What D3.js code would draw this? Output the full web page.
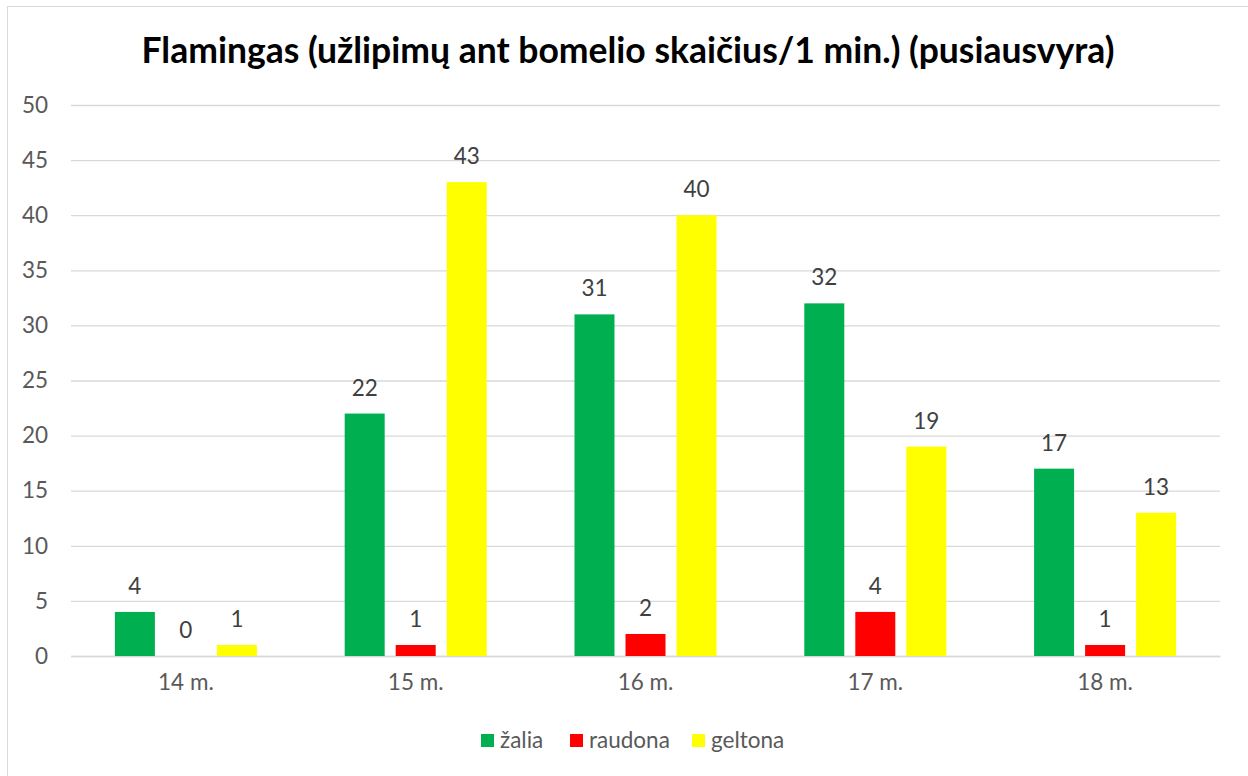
<!DOCTYPE html>
<html>
<head>
<meta charset="utf-8">
<script src="https://cdn.jsdelivr.net/npm/d3@7"></script>
<style>
  html, body { margin: 0; padding: 0; background: #fff; }
  svg { display: block; font-family: Lato, "Open Sans", sans-serif; }
</style>
</head>
<body>
<svg id="chart" width="1248" height="776"></svg>
<script>
const categories = ["14 m.", "15 m.", "16 m.", "17 m.", "18 m."];
const seriesNames = ["žalia", "raudona", "geltona"];
const seriesColors = ["#00B050", "#FF0000", "#FFFF00"];
const zalia = [4, 22, 31, 32, 17];
const raudona = [0, 1, 2, 4, 1];
const geltona = [1, 43, 40, 19, 13];
const yTicks = [0, 5, 10, 15, 20, 25, 30, 35, 40, 45, 50];

const values = [zalia, raudona, geltona];
const svg = d3.select("#chart");
const margin = { top: 105, right: 28, bottom: 120, left: 71 };
const W = 1248, H = 776;

// chart border
svg.append("rect")
  .attr("x", 7.5).attr("y", 6.5)
  .attr("width", W).attr("height", H)
  .attr("fill", "none").attr("stroke", "#d9d9d9");

svg.append("text")
  .attr("x", 628).attr("y", 63)
  .attr("text-anchor", "middle")
  .attr("font-size", 35.5).attr("font-weight", "bold")
  .attr("fill", "#000")
  .text("Flamingas (užlipimų ant bomelio skaičius/1 min.) (pusiausvyra)");

const x0 = d3.scaleBand()
  .domain(categories)
  .range([margin.left, W - margin.right]);

const groupW = x0.bandwidth() * 0.618;
const x1 = d3.scaleBand()
  .domain(seriesNames)
  .range([(x0.bandwidth() - groupW) / 2, (x0.bandwidth() + groupW) / 2])
  .paddingInner(0.216);

const y = d3.scaleLinear()
  .domain([0, 50])
  .range([H - margin.bottom, margin.top]);

// gridlines + y labels
const yAxis = svg.append("g")
  .attr("transform", `translate(${margin.left},0)`)
  .call(d3.axisLeft(y).tickValues(yTicks)
    .tickSize(-(W - margin.left - margin.right)).tickPadding(23));
yAxis.select(".domain").remove();
yAxis.selectAll(".tick line").attr("stroke", "#d9d9d9").attr("stroke-width", 1.3);
yAxis.selectAll(".tick text")
  .attr("font-size", 22.5).attr("fill", "#595959")
  .attr("font-family", "Lato, sans-serif");

// x axis
const xAxis = svg.append("g")
  .attr("transform", `translate(0,${H - margin.bottom})`)
  .call(d3.axisBottom(x0).tickSize(0).tickPadding(18));
xAxis.select(".domain").attr("stroke", "#d9d9d9").attr("stroke-width", 1.3);
xAxis.selectAll(".tick text")
  .attr("font-size", 22.5).attr("fill", "#595959")
  .attr("font-family", "Lato, sans-serif");

// bars
const rows = [];
categories.forEach((c, i) => {
  seriesNames.forEach((s, j) => rows.push({ cat: c, series: s, color: seriesColors[j], value: values[j][i] }));
});

svg.append("g").selectAll("rect")
  .data(rows)
  .join("rect")
  .attr("x", d => x0(d.cat) + x1(d.series))
  .attr("y", d => y(d.value))
  .attr("width", x1.bandwidth())
  .attr("height", d => y(0) - y(d.value))
  .attr("fill", d => d.color);

svg.append("g").selectAll("text")
  .data(rows)
  .join("text")
  .attr("x", d => x0(d.cat) + x1(d.series) + x1.bandwidth() / 2)
  .attr("y", d => y(d.value) - 18)
  .attr("text-anchor", "middle")
  .attr("font-size", 22.5).attr("fill", "#404040")
  .text(d => d.value);

// legend
const legendX = [481, 570, 692];
const legend = svg.append("g").selectAll("g")
  .data(seriesNames)
  .join("g")
  .attr("transform", (d, i) => `translate(${legendX[i]},734)`);
legend.append("rect")
  .attr("width", 13).attr("height", 13)
  .attr("fill", (d, i) => seriesColors[i]);
legend.append("text")
  .attr("x", 19).attr("y", 14)
  .attr("font-size", 22.5).attr("fill", "#595959")
  .text(d => d);
</script>
</body>
</html>
